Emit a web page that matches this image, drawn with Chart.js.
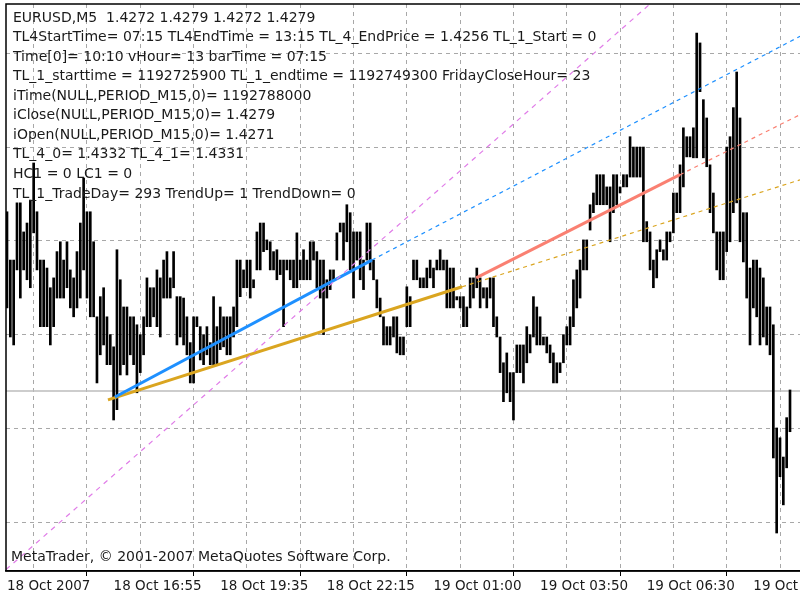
<!DOCTYPE html>
<html><head><meta charset="utf-8">
<script src="https://cdn.jsdelivr.net/npm/chart.js@4/dist/chart.umd.min.js"></script>
<style>html,body{margin:0;padding:0;background:#fff}canvas{display:block}</style>
</head><body>
<canvas id="c" width="800" height="600"></canvas>
<script>
const barHigh = [1.43062,1.42959,1.42959,1.43081,1.43081,1.43019,1.43038,1.43087,1.43166,1.43062,
1.42959,1.42959,1.42942,1.42900,1.42921,1.42977,1.42998,1.42959,1.42998,1.42938,
1.42921,1.42977,1.43038,1.43134,1.43062,1.43062,1.42998,1.42838,1.42881,1.42900,
1.42838,1.42800,1.42774,1.42981,1.42917,1.42859,1.42859,1.42838,1.42838,1.42821,
1.42800,1.42838,1.42921,1.42900,1.42900,1.42938,1.42921,1.42959,1.42977,1.42921,
1.42977,1.42881,1.42881,1.42878,1.42838,1.42783,1.42838,1.42838,
1.42817,1.42800,1.42817,1.42783,1.42881,1.42817,1.42859,1.42838,1.42838,1.42838,
1.42859,1.42959,1.42959,1.42938,1.42959,1.42959,1.42917,1.43019,1.43038,1.43038,
1.43002,1.42998,1.42977,1.42981,1.42959,1.42959,1.42959,1.42959,1.42959,1.43017,
1.42959,1.42981,1.42959,1.42998,1.42998,1.42977,1.42959,1.42959,1.42917,1.42938,
1.42938,1.43017,1.43038,1.43038,1.43077,1.43060,1.43019,1.43019,1.43019,1.42959,
1.43038,1.43038,1.42959,1.42917,1.42878,1.42838,1.42817,1.42817,1.42838,
1.42838,1.42795,1.42795,1.42902,1.42881,1.42959,1.42959,1.42921,1.42921,1.42942,
1.42959,1.42942,1.42959,1.42981,1.42959,1.42959,1.42942,1.42942,1.42881,1.42881,
1.42881,1.42859,1.42921,1.42921,1.42942,1.42921,1.42900,1.42900,1.42921,1.42921,
1.42838,1.42795,1.42740,1.42761,1.42719,1.42719,1.42778,1.42778,1.42778,1.42817,
1.42800,1.42881,1.42859,1.42838,1.42795,1.42795,1.42778,1.42761,1.42740,1.42740,
1.42800,1.42817,1.42838,1.42917,1.42938,1.42959,1.43002,1.43002,1.43077,1.43102,
1.43141,1.43141,1.43141,1.43115,1.43115,1.43141,1.43141,1.43115,1.43141,1.43141,
1.43222,1.43200,1.43200,1.43200,1.43200,1.43041,1.43019,1.42959,1.42981,1.43002,
1.42981,1.43019,1.43019,1.43102,1.43102,1.43162,1.43241,1.43222,1.43222,1.43241,
1.43443,1.43422,1.43301,1.43262,1.43162,1.43102,1.43019,1.43019,1.43019,1.43200,
1.43222,1.43284,1.43360,1.43262,1.43060,1.43060,1.42942,1.42959,1.42959,1.42942,
1.42921,1.42859,1.42859,1.42821,1.42601,1.42580,1.42539,1.42623,1.42682];
const barLow = [1.42857,1.42795,1.42778,1.42938,1.42878,1.42938,1.42917,1.42900,1.43017,1.42938,
1.42817,1.42817,1.42817,1.42778,1.42817,1.42878,1.42878,1.42878,1.42900,1.42857,
1.42838,1.42857,1.42878,1.42938,1.42878,1.42838,1.42838,1.42697,1.42757,1.42778,
1.42736,1.42736,1.42618,1.42640,1.42714,1.42736,1.42714,1.42757,1.42736,1.42676,
1.42719,1.42757,1.42817,1.42817,1.42838,1.42817,1.42795,1.42878,1.42878,1.42878,
1.42900,1.42778,1.42795,1.42778,1.42757,1.42697,1.42697,1.42817,
1.42746,1.42736,1.42757,1.42736,1.42736,1.42736,1.42768,1.42774,1.42757,1.42757,
1.42795,1.42817,1.42881,1.42900,1.42900,1.42878,1.42900,1.42938,1.42938,1.42977,
1.42981,1.42938,1.42938,1.42917,1.42928,1.42817,1.42938,1.42917,1.42900,1.42900,
1.42917,1.42917,1.42917,1.42917,1.42959,1.42900,1.42878,1.42800,1.42878,1.42896,
1.42917,1.42959,1.43019,1.42959,1.42998,1.42938,1.42878,1.42959,1.42917,1.42896,
1.42959,1.42938,1.42917,1.42857,1.42838,1.42778,1.42778,1.42778,1.42795,
1.42761,1.42757,1.42757,1.42817,1.42817,1.42917,1.42917,1.42900,1.42900,1.42900,
1.42921,1.42900,1.42938,1.42938,1.42938,1.42857,1.42857,1.42857,1.42874,1.42857,
1.42817,1.42817,1.42857,1.42878,1.42900,1.42857,1.42878,1.42857,1.42878,1.42817,
1.42795,1.42719,1.42657,1.42676,1.42657,1.42618,1.42719,1.42719,1.42697,1.42740,
1.42761,1.42795,1.42778,1.42778,1.42778,1.42761,1.42740,1.42697,1.42697,1.42719,
1.42740,1.42778,1.42778,1.42817,1.42857,1.42878,1.42938,1.42938,1.43023,1.43060,
1.43077,1.43077,1.43077,1.43077,1.42998,1.43060,1.43077,1.43102,1.43115,1.43115,
1.43136,1.43136,1.43136,1.43136,1.42998,1.42998,1.42938,1.42900,1.42921,1.42977,
1.42959,1.42959,1.42998,1.43017,1.43060,1.43060,1.43115,1.43179,1.43179,1.43177,
1.43177,1.43318,1.43177,1.43158,1.43060,1.43017,1.42938,1.42917,1.42917,1.42977,
1.42998,1.43060,1.43081,1.42998,1.42955,1.42878,1.42778,1.42857,1.42838,1.42778,
1.42795,1.42778,1.42757,1.42537,1.42377,1.42497,1.42437,1.42516,1.42593];

// trend lines: [barIndex, price]
const blueSolid = [[32.4,1.42667],[109.5,1.42959]];
const blueDash  = [[109.5,1.42959],[238,1.43436]];
const goldSolid = [[30.3,1.42661],[136.6,1.42902]];
const goldDash  = [[136.6,1.42902],[238,1.43130]];
const redSolid  = [[140.8,1.42921],[202,1.43141]];
const redDash   = [[202,1.43141],[238,1.43269]];
const pinkDash  = [[-0.3,1.42299],[193,1.43505]];
const hLinePrice = 1.42680;

const xTickLabels = ["18 Oct 2007","18 Oct 16:55","18 Oct 19:35","18 Oct 22:15","19 Oct 01:00","19 Oct 03:50","19 Oct 06:30","19 Oct 09:10"];
const yGridPrices = [1.4240,1.4260,1.4280,1.4300,1.4320,1.4340];
const infoLines = [
"EURUSD,M5  1.4272 1.4279 1.4272 1.4279",
"TL4StartTime= 07:15 TL4EndTime = 13:15 TL_4_EndPrice = 1.4256 TL_1_Start = 0",
"Time[0]= 10:10 vHour= 13 barTime = 07:15",
"TL_1_starttime = 1192725900 TL_1_endtime = 1192749300 FridayCloseHour= 23",
"iTime(NULL,PERIOD_M15,0)= 1192788000",
"iClose(NULL,PERIOD_M15,0)= 1.4279",
"iOpen(NULL,PERIOD_M15,0)= 1.4271",
"TL_4_0= 1.4332 TL_4_1= 1.4331",
"HC1 = 0 LC1 = 0",
"TL_1_TradeDay= 293 TrendUp= 1 TrendDown= 0"];
const copyright = "MetaTrader, © 2001-2007 MetaQuotes Software Corp.";

const pts = a => a.map(p => ({x:p[0], y:p[1]}));
const lineDs = (a, color, w, dash) => ({type:'line', data:pts(a), borderColor:color, borderWidth:w,
  borderDash:dash, pointRadius:0, fill:false, order:0, tension:0});

const textPlugin = {
  id:'texts',
  afterDraw(chart){
    const ctx = chart.ctx, a = chart.chartArea;
    ctx.save();
    ctx.strokeStyle = '#000'; ctx.lineWidth = 1.5;
    ctx.beginPath(); ctx.moveTo(800, a.top); ctx.lineTo(a.left, a.top); ctx.lineTo(a.left, a.bottom); ctx.lineTo(800, a.bottom); ctx.stroke();
    ctx.fillStyle = '#1a1a1a';
    ctx.font = '14px "DejaVu Sans"';
    ctx.textBaseline = 'middle';
    infoLines.forEach((t,i) => ctx.fillText(t, 13, 18 + i*19.55));
    ctx.fillText(copyright, 11, 557);
    ctx.restore();
  }
};

new Chart(document.getElementById('c'), {
  data: {
    datasets: [
      {type:'bar', data: barHigh.map((h,i)=>({x:i, y:[barLow[i], h]})), backgroundColor:'#000', barThickness:2, order:10},
      {type:'line', data:[{x:-0.3,y:hLinePrice},{x:238,y:hLinePrice}], borderColor:'#bdbdbd', borderWidth:1.5, pointRadius:0, order:20},
      lineDs(pinkDash, '#e07ce8', 1.2, [5,5]),
      lineDs(blueDash, '#1e90ff', 1.2, [4,4]),
      lineDs(goldDash, '#daa520', 1.2, [4,4]),
      lineDs(redDash, '#fa8072', 1.2, [4,4]),
      lineDs(blueSolid, '#1e90ff', 3, []),
      lineDs(goldSolid, '#daa520', 3, []),
      lineDs(redSolid, '#fa8072', 3, [])
    ]
  },
  options: {
    responsive:false, animation:false,
    layout:{padding:{top:4, right:0, left:0, bottom:0}},
    plugins:{legend:{display:false}, tooltip:{enabled:false}},
    scales:{
      x:{type:'linear', min:-0.3, max:238, offset:false,
        afterFit(s){ s.height = 29; s.paddingRight = 0; s.paddingLeft = 0; },
        afterBuildTicks(s){ s.ticks = [0,16,32,48,64,80,96,112,128,144,160,176,192,208,224].map(v=>({value:v})); },
        grid:{color:'#a8a8a8', lineWidth:1, tickLength:5,
          tickColor: c => (c.tick && c.tick.value % 32 === 0) ? '#000' : 'rgba(0,0,0,0)'},
        border:{display:true, color:'#000', width:1.5, dash:[4,4]},
        ticks:{autoSkip:false, maxRotation:0, align:'start', padding:2, labelOffset:0,
          color:'#1a1a1a', font:{family:'DejaVu Sans', size:13.5},
          callback: v => v % 32 === 0 ? xTickLabels[v/32] : ''}
      },
      y:{type:'linear', min:1.42296, max:1.43505,
        afterFit(s){ s.width = 6; },
        afterBuildTicks(s){ s.ticks = yGridPrices.map(v=>({value:v})); },
        grid:{color:'#a8a8a8', lineWidth:1, drawTicks:false},
        border:{display:false, dash:[4,4]},
        ticks:{display:false}
      }
    }
  },
  plugins:[textPlugin]
});
</script>
</body></html>
